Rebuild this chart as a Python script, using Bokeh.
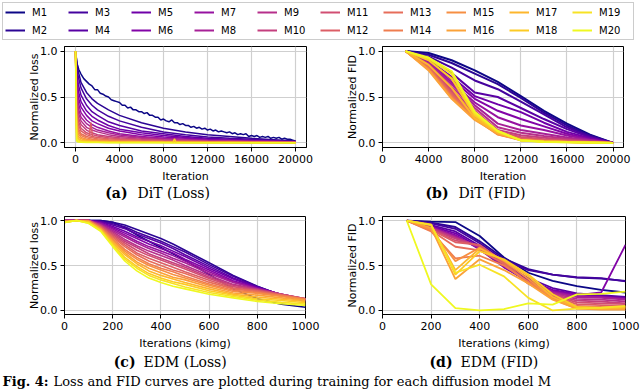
from bokeh.plotting import figure
from bokeh.layouts import column, row
from bokeh.models import Legend, LegendItem, Label, FixedTicker, Range1d
from bokeh.palettes import Plasma256
from bokeh.embed import file_html
from bokeh.resources import INLINE

NAMES = ["M1", "M2", "M3", "M4", "M5", "M6", "M7", "M8", "M9", "M10",
         "M11", "M12", "M13", "M14", "M15", "M16", "M17", "M18", "M19", "M20"]
COLORS = [Plasma256[round(i * 255 / 19)] for i in range(20)]

# ---------------- (a) DiT loss ----------------
DIT_LOSS_M1_X = [0, 150, 300, 500, 750, 1000, 1250, 1500, 1750, 2000, 2250, 2500, 2750, 3000,
                 3250, 3500, 3750, 4000, 4250, 4500, 4750, 5000, 5250, 5500, 5750, 6000,
                 6250, 6500, 6750, 7000, 7250, 7500, 7750, 8000, 8250, 8500, 8750, 9000,
                 9250, 9500, 9750, 10000, 10250, 10500, 10750, 11000, 11250, 11500, 11750,
                 12000, 12250, 12500, 12750, 13000, 13250, 13500, 13750, 14000, 14250, 14500,
                 14750, 15000, 15250, 15500, 15750, 16000, 16250, 16500, 16750, 17000, 17250,
                 17500, 17750, 18000, 18250, 18500, 18750, 19000, 19250, 19500, 19750, 20000]
DIT_LOSS_M1_Y = [1.0, 0.86, 0.80, 0.75, 0.70, 0.67, 0.64, 0.62, 0.58, 0.58, 0.54, 0.53, 0.51, 0.50,
                 0.47, 0.46, 0.45, 0.44, 0.41, 0.41, 0.38, 0.39, 0.36, 0.36, 0.34, 0.34,
                 0.32, 0.33, 0.30, 0.30, 0.28, 0.28, 0.25, 0.26, 0.24, 0.23, 0.25, 0.22,
                 0.22, 0.20, 0.21, 0.19, 0.19, 0.17, 0.18, 0.16, 0.17, 0.15, 0.16,
                 0.14, 0.15, 0.13, 0.14, 0.12, 0.13, 0.12, 0.11, 0.12, 0.10, 0.11,
                 0.09, 0.10, 0.09, 0.10, 0.07, 0.08, 0.07, 0.08, 0.06, 0.07, 0.06,
                 0.07, 0.05, 0.06, 0.05, 0.06, 0.04, 0.05, 0.04, 0.04, 0.03, 0.02]
DIT_LOSS_X = [0, 100, 250, 500, 1000, 1500, 2000, 3000, 4000, 6000, 8000, 10000, 12000,
              14000, 16000, 18000, 20000]
DIT_LOSS_Y = [
    [1.0, 0.90, 0.78, 0.66, 0.55, 0.48, 0.43, 0.36, 0.30, 0.22, 0.16, 0.12, 0.09, 0.07, 0.05, 0.035, 0.02],
    [1.0, 0.85, 0.72, 0.60, 0.48, 0.41, 0.36, 0.29, 0.24, 0.17, 0.12, 0.09, 0.065, 0.05, 0.04, 0.03, 0.015],
    [1.0, 0.80, 0.64, 0.52, 0.41, 0.34, 0.30, 0.23, 0.19, 0.13, 0.10, 0.07, 0.05, 0.04, 0.03, 0.02, 0.01],
    [1.0, 0.75, 0.57, 0.45, 0.35, 0.29, 0.25, 0.19, 0.15, 0.11, 0.08, 0.06, 0.04, 0.03, 0.025, 0.02, 0.01],
    [1.0, 0.70, 0.50, 0.39, 0.30, 0.24, 0.21, 0.16, 0.13, 0.09, 0.065, 0.05, 0.035, 0.03, 0.02, 0.015, 0.01],
    [1.0, 0.64, 0.44, 0.33, 0.25, 0.20, 0.17, 0.13, 0.10, 0.07, 0.05, 0.04, 0.03, 0.025, 0.02, 0.015, 0.01],
    [1.0, 0.58, 0.38, 0.28, 0.21, 0.17, 0.14, 0.11, 0.085, 0.06, 0.045, 0.035, 0.025, 0.02, 0.015, 0.012, 0.01],
    [1.0, 0.52, 0.33, 0.24, 0.17, 0.14, 0.12, 0.09, 0.07, 0.05, 0.035, 0.03, 0.02, 0.017, 0.013, 0.01, 0.008],
    [1.0, 0.46, 0.28, 0.20, 0.14, 0.11, 0.09, 0.07, 0.055, 0.04, 0.03, 0.025, 0.018, 0.015, 0.012, 0.01, 0.007],
    [1.0, 0.40, 0.24, 0.16, 0.11, 0.09, 0.075, 0.055, 0.045, 0.033, 0.025, 0.02, 0.015, 0.012, 0.01, 0.008, 0.006],
    [1.0, 0.34, 0.20, 0.13, 0.09, 0.07, 0.06, 0.045, 0.036, 0.027, 0.02, 0.016, 0.012, 0.01, 0.008, 0.007, 0.005],
    [1.0, 0.29, 0.16, 0.10, 0.07, 0.055, 0.045, 0.035, 0.028, 0.02, 0.016, 0.013, 0.01, 0.008, 0.007, 0.006, 0.005],
    [1.0, 0.24, 0.13, 0.08, 0.055, 0.04, 0.035, 0.027, 0.022, 0.016, 0.013, 0.01, 0.008, 0.007, 0.006, 0.005, 0.004],
    [1.0, 0.19, 0.10, 0.06, 0.04, 0.03, 0.026, 0.02, 0.017, 0.013, 0.01, 0.008, 0.007, 0.006, 0.005, 0.004, 0.003],
    [1.0, 0.15, 0.07, 0.045, 0.03, 0.022, 0.019, 0.015, 0.013, 0.01, 0.008, 0.007, 0.006, 0.005, 0.004, 0.003, 0.003],
    [1.0, 0.11, 0.05, 0.03, 0.02, 0.016, 0.014, 0.011, 0.01, 0.008, 0.006, 0.005, 0.004, 0.004, 0.003, 0.003, 0.002],
    [1.0, 0.07, 0.035, 0.02, 0.014, 0.011, 0.01, 0.008, 0.007, 0.006, 0.005, 0.004, 0.003, 0.003, 0.002, 0.002, 0.002],
    [1.0, 0.04, 0.02, 0.012, 0.009, 0.007, 0.006, 0.005, 0.005, 0.004, 0.004, 0.003, 0.002, 0.002, 0.002, 0.001, 0.001],
    [1.0, 0.02, 0.01, 0.007, 0.005, 0.004, 0.004, 0.003, 0.003, 0.003, 0.002, 0.002, 0.002, 0.001, 0.001, 0.001, 0.001],
]
SPIKE_A_SERIES, SPIKE_A_X, SPIKE_A_Y = 11, [1250, 1400, 1550], [0.08, 0.22, 0.07]
SPIKE_B_SERIES, SPIKE_B_X, SPIKE_B_Y = 17, [8850, 9000, 9150], [0.005, 0.045, 0.005]

# ---------------- (b) DiT FID ----------------
DIT_FID_X = [2000, 4000, 6000, 8000, 10000, 12000, 14000, 16000, 18000, 20000]
DIT_FID_Y = [
    [1.0, 0.98, 0.90, 0.79, 0.665, 0.51, 0.35, 0.21, 0.09, 0.0],
    [1.0, 0.96, 0.87, 0.755, 0.64, 0.49, 0.33, 0.19, 0.08, 0.0],
    [1.0, 0.94, 0.82, 0.68, 0.585, 0.45, 0.31, 0.17, 0.07, 0.0],
    [1.0, 0.92, 0.76, 0.55, 0.50, 0.38, 0.26, 0.15, 0.06, 0.0],
    [1.0, 0.90, 0.72, 0.51, 0.42, 0.335, 0.22, 0.12, 0.05, 0.0],
    [1.0, 0.89, 0.69, 0.48, 0.35, 0.26, 0.18, 0.10, 0.04, 0.0],
    [1.0, 0.88, 0.66, 0.44, 0.28, 0.19, 0.14, 0.08, 0.035, 0.0],
    [1.0, 0.87, 0.64, 0.41, 0.21, 0.14, 0.10, 0.06, 0.03, 0.0],
    [1.0, 0.86, 0.61, 0.38, 0.17, 0.11, 0.075, 0.045, 0.02, 0.0],
    [1.0, 0.85, 0.58, 0.35, 0.14, 0.083, 0.055, 0.035, 0.015, 0.0],
    [1.0, 0.84, 0.56, 0.32, 0.12, 0.065, 0.04, 0.025, 0.01, 0.0],
    [1.0, 0.83, 0.54, 0.30, 0.11, 0.05, 0.03, 0.02, 0.01, 0.0],
    [1.0, 0.82, 0.52, 0.28, 0.10, 0.04, 0.025, 0.015, 0.008, 0.0],
    [1.0, 0.81, 0.50, 0.27, 0.095, 0.035, 0.02, 0.012, 0.006, 0.0],
    [1.0, 0.80, 0.49, 0.26, 0.09, 0.03, 0.018, 0.01, 0.005, 0.0],
    [1.0, 0.79, 0.48, 0.25, 0.10, 0.03, 0.015, 0.01, 0.005, 0.0],
    [1.0, 0.85, 0.60, 0.27, 0.11, 0.03, 0.015, 0.01, 0.005, 0.0],
    [1.0, 0.90, 0.70, 0.30, 0.12, 0.03, 0.015, 0.01, 0.005, 0.0],
    [1.0, 0.92, 0.75, 0.32, 0.13, 0.03, 0.012, 0.008, 0.004, 0.0],
    [1.0, 0.93, 0.78, 0.34, 0.13, 0.025, 0.01, 0.006, 0.003, 0.0],
]

# ---------------- (c) EDM loss ----------------
EDM_LOSS_X = [0, 50, 100, 150, 200, 250, 300, 350, 400, 450, 500, 600, 700, 800, 900, 1000]
EDM_LOSS_Y = [
    [1.0, 1.0, 1.0, 1.0, 0.98, 0.92, 0.84, 0.77, 0.70, 0.63, 0.56, 0.40, 0.24, 0.13, 0.07, 0.035],
    [1.0, 1.0, 1.0, 1.0, 0.98, 0.95, 0.90, 0.85, 0.80, 0.74, 0.67, 0.53, 0.39, 0.27, 0.17, 0.10],
    [1.0, 1.0, 1.0, 0.99, 0.965, 0.93, 0.87, 0.82, 0.77, 0.71, 0.65, 0.51, 0.38, 0.265, 0.17, 0.105],
    [1.0, 1.0, 1.0, 0.99, 0.95, 0.91, 0.85, 0.80, 0.75, 0.69, 0.62, 0.49, 0.36, 0.26, 0.175, 0.11],
    [1.0, 1.0, 1.0, 0.98, 0.935, 0.88, 0.82, 0.77, 0.72, 0.66, 0.60, 0.47, 0.35, 0.255, 0.175, 0.115],
    [1.0, 1.0, 1.0, 0.97, 0.92, 0.86, 0.80, 0.74, 0.69, 0.64, 0.57, 0.45, 0.33, 0.25, 0.18, 0.12],
    [1.0, 1.0, 1.0, 0.97, 0.905, 0.84, 0.77, 0.71, 0.66, 0.61, 0.55, 0.43, 0.32, 0.245, 0.18, 0.12],
    [1.0, 1.0, 1.0, 0.96, 0.89, 0.82, 0.75, 0.69, 0.64, 0.58, 0.53, 0.41, 0.31, 0.24, 0.18, 0.125],
    [1.0, 1.0, 1.0, 0.95, 0.875, 0.79, 0.72, 0.66, 0.61, 0.56, 0.50, 0.39, 0.29, 0.235, 0.18, 0.13],
    [1.0, 1.0, 1.0, 0.95, 0.86, 0.77, 0.70, 0.63, 0.58, 0.53, 0.48, 0.37, 0.28, 0.23, 0.18, 0.13],
    [1.0, 1.0, 1.0, 0.94, 0.845, 0.75, 0.67, 0.61, 0.56, 0.51, 0.46, 0.355, 0.265, 0.225, 0.18, 0.13],
    [0.99, 1.0, 1.0, 0.93, 0.83, 0.73, 0.64, 0.58, 0.53, 0.48, 0.43, 0.335, 0.25, 0.22, 0.175, 0.13],
    [0.99, 1.0, 1.0, 0.93, 0.815, 0.71, 0.62, 0.55, 0.50, 0.45, 0.41, 0.315, 0.24, 0.21, 0.17, 0.13],
    [0.99, 1.0, 0.99, 0.92, 0.80, 0.68, 0.59, 0.52, 0.47, 0.43, 0.38, 0.295, 0.225, 0.20, 0.165, 0.125],
    [0.99, 1.0, 0.99, 0.91, 0.785, 0.66, 0.57, 0.50, 0.45, 0.40, 0.36, 0.28, 0.21, 0.19, 0.155, 0.12],
    [0.99, 1.0, 0.99, 0.91, 0.77, 0.64, 0.54, 0.47, 0.42, 0.37, 0.34, 0.26, 0.195, 0.17, 0.14, 0.11],
    [0.98, 1.0, 0.99, 0.90, 0.755, 0.62, 0.52, 0.44, 0.39, 0.35, 0.31, 0.24, 0.18, 0.15, 0.125, 0.10],
    [0.98, 1.0, 0.98, 0.89, 0.74, 0.59, 0.49, 0.41, 0.36, 0.32, 0.29, 0.22, 0.17, 0.13, 0.11, 0.085],
    [0.98, 1.0, 0.97, 0.89, 0.725, 0.57, 0.47, 0.39, 0.34, 0.30, 0.26, 0.20, 0.155, 0.115, 0.09, 0.07],
    [0.98, 1.0, 0.97, 0.88, 0.71, 0.55, 0.44, 0.36, 0.31, 0.27, 0.24, 0.18, 0.14, 0.10, 0.075, 0.055],
]

# ---------------- (d) EDM FID ----------------
EDM_FID_X = [100, 200, 300, 400, 500, 600, 700, 800, 900, 1000]
EDM_FID_Y = [
    [1.0, 0.99, 0.985, 0.83, 0.59, 0.42, 0.33, 0.27, 0.23, 0.20],
    [1.0, 0.98, 0.93, 0.77, 0.58, 0.46, 0.40, 0.365, 0.355, 0.33],
    [1.0, 0.97, 0.91, 0.75, 0.56, 0.45, 0.40, 0.37, 0.36, 0.325],
    [1.0, 0.95, 0.88, 0.72, 0.52, 0.36, 0.25, 0.19, 0.17, 0.15],
    [1.0, 0.94, 0.86, 0.70, 0.50, 0.34, 0.23, 0.18, 0.16, 0.14],
    [1.0, 0.93, 0.84, 0.68, 0.48, 0.32, 0.22, 0.17, 0.20, 0.73],
    [1.0, 0.93, 0.83, 0.69, 0.49, 0.33, 0.21, 0.16, 0.15, 0.13],
    [1.0, 0.92, 0.82, 0.70, 0.50, 0.32, 0.20, 0.15, 0.14, 0.12],
    [1.0, 0.92, 0.81, 0.71, 0.51, 0.31, 0.19, 0.13, 0.12, 0.10],
    [1.0, 0.91, 0.80, 0.72, 0.52, 0.31, 0.18, 0.11, 0.10, 0.08],
    [1.0, 0.90, 0.78, 0.72, 0.53, 0.30, 0.17, 0.09, 0.08, 0.07],
    [1.0, 0.90, 0.76, 0.73, 0.54, 0.30, 0.16, 0.07, 0.06, 0.05],
    [1.0, 0.89, 0.71, 0.67, 0.52, 0.30, 0.15, 0.05, 0.04, 0.04],
    [1.0, 0.88, 0.58, 0.61, 0.50, 0.32, 0.14, 0.03, 0.03, 0.03],
    [1.0, 0.90, 0.55, 0.70, 0.55, 0.35, 0.13, 0.02, 0.02, 0.02],
    [1.0, 0.92, 0.35, 0.57, 0.45, 0.30, 0.12, 0.02, 0.01, 0.01],
    [1.0, 0.95, 0.45, 0.69, 0.56, 0.38, 0.15, 0.03, 0.02, 0.03],
    [1.0, 0.96, 0.40, 0.66, 0.57, 0.40, 0.18, 0.04, 0.03, 0.04],
    [1.0, 0.95, 0.42, 0.51, 0.38, 0.14, 0.0, 0.02, 0.03, 0.05],
    [1.0, 0.29, 0.025, 0.0, 0.015, 0.08, 0.065, 0.18, 0.185, 0.21],
]

DIT_TICKS = [0, 4000, 8000, 12000, 16000, 20000]
EDM_TICKS = [0, 200, 400, 600, 800, 1000]
Y_TICKS = [0, 0.5, 1]
Y_TICK_LABELS = {0: "0.0", 0.5: "0.5", 1: "1.0"}

SANS = "DejaVu Sans"
SERIF = "DejaVu Serif"


def panel(width, height, xr, yr, xticks, xlabel, ylabel, borders):
    left, right, top, bottom = borders
    p = figure(width=width, height=height, x_range=Range1d(*xr), y_range=Range1d(*yr),
               output_backend="svg", toolbar_location=None,
               min_border_left=left, min_border_right=right,
               min_border_top=top, min_border_bottom=bottom)
    p.xaxis.ticker = FixedTicker(ticks=xticks)
    p.yaxis.ticker = FixedTicker(ticks=Y_TICKS)
    p.yaxis.major_label_overrides = Y_TICK_LABELS
    p.xaxis.axis_label = xlabel
    p.yaxis.axis_label = ylabel
    for ax in (p.xaxis[0], p.yaxis[0]):
        ax.major_label_text_font = SANS
        ax.major_label_text_font_size = "11px"
        ax.major_label_text_color = "#000000"
        ax.axis_label_text_font = SANS
        ax.axis_label_text_font_size = "11px"
        ax.axis_label_text_font_style = "normal"
        ax.axis_label_text_color = "#000000"
        ax.axis_line_color = "#000000"
        ax.major_tick_line_color = "#000000"
        ax.major_tick_out = 4
        ax.major_tick_in = 0
        ax.minor_tick_line_color = None
    p.xaxis.major_label_standoff = 3
    p.xaxis.axis_label_standoff = 4
    p.yaxis.major_label_standoff = 3
    p.yaxis.axis_label_standoff = -4
    p.outline_line_color = "#000000"
    p.outline_line_alpha = 1.0
    p.grid.grid_line_color = "#cfcfcf"
    p.grid.grid_line_width = 1.2
    p.background_fill_color = "white"
    p.border_fill_color = "white"
    return p


def strip(height):
    s = figure(width=640, height=height, x_range=Range1d(0, 1), y_range=Range1d(0, 1),
               output_backend="svg", toolbar_location=None, min_border=0,
               x_axis_type=None, y_axis_type=None, outline_line_color=None)
    s.grid.visible = False
    return s


def caption(s, bold, rest, xb, xr_, y, size="14px"):
    s.add_layout(Label(x=xb, y=y, x_units="screen", y_units="screen", text=bold,
                       text_font=SERIF, text_font_style="bold", text_font_size=size,
                       text_align="right", text_baseline="middle", text_color="#000000"))
    s.add_layout(Label(x=xr_, y=y, x_units="screen", y_units="screen", text=rest,
                       text_font=SERIF, text_font_style="normal", text_font_size=size,
                       text_align="left", text_baseline="middle", text_color="#000000"))


# Panel (a)
pa = panel(320, 145, (-1000, 21000), (-0.05, 1.05), DIT_TICKS, "Iteration", "Normalized loss",
           (64, 14, 6, 35))
pa.line(DIT_LOSS_M1_X, DIT_LOSS_M1_Y, line_color=COLORS[0], line_width=1.5)
for i, ys in enumerate(DIT_LOSS_Y):
    pa.line(DIT_LOSS_X, ys, line_color=COLORS[i + 1], line_width=1.5)
pa.line(SPIKE_A_X, SPIKE_A_Y, line_color=COLORS[SPIKE_A_SERIES], line_width=1.5)
pa.line(SPIKE_B_X, SPIKE_B_Y, line_color=COLORS[SPIKE_B_SERIES], line_width=1.5)

# Panel (b)
pb = panel(320, 145, (0, 20900), (-0.05, 1.05), DIT_TICKS, "Iteration", "Normalized FID",
           (62, 17, 6, 35))
for i, ys in enumerate(DIT_FID_Y):
    pb.line(DIT_FID_X, ys, line_color=COLORS[i], line_width=2)

# Panel (c)
pc = panel(320, 152, (0, 1000), (-0.045, 1.045), EDM_TICKS, "Iterations (kimg)", "Normalized loss",
           (64, 15, 12, 36))
for i, ys in enumerate(EDM_LOSS_Y):
    pc.line(EDM_LOSS_X, ys, line_color=COLORS[i], line_width=1.6)

# Panel (d)
pd = panel(320, 152, (0, 1000), (-0.045, 1.047), EDM_TICKS, "Iterations (kimg)", "Normalized FID",
           (62, 15, 16, 35))
for i, ys in enumerate(EDM_FID_Y):
    pd.line(EDM_FID_X, ys, line_color=COLORS[i], line_width=1.8)

# Sub-captions
cap1 = strip(15)
caption(cap1, "(a)", "DiT (Loss)", 127, 137, 7.5)
caption(cap1, "(b)", "DiT (FID)", 448, 458, 7.5)
cap2 = strip(18)
caption(cap2, "(c)", "EDM (Loss)", 135, 143, 9)
caption(cap2, "(d)", "EDM (FID)", 452, 460, 9)

# Legend strip
lf = strip(40)
rends = [lf.line(x=[float("nan")], y=[float("nan")], line_color=c, line_width=2) for c in COLORS]
legend = Legend(items=[LegendItem(label=n, renderers=[r]) for n, r in zip(NAMES, rends)],
                orientation="vertical", nrows=2, location="top_left",
                glyph_width=20, glyph_height=14, label_standoff=7, label_width=32,
                spacing=4, padding=2, margin=2,
                border_line_color="#cccccc", border_line_width=1, border_line_alpha=1.0,
                label_text_font=SANS, label_text_font_size="10px",
                label_text_color="#000000", background_fill_color="white")
lf.add_layout(legend, "center")

# Figure caption
cf = strip(21)
cf.add_layout(Label(x=2, y=10.5, x_units="screen", y_units="screen", text="Fig. 4:",
                    text_font=SERIF, text_font_style="bold", text_font_size="13px",
                    text_baseline="middle", text_color="#000000"))
cf.add_layout(Label(x=53, y=10.5, x_units="screen", y_units="screen",
                    text="Loss and FID curves are plotted during training for each diffusion model M",
                    text_font=SERIF, text_font_size="13px",
                    text_baseline="middle", text_color="#000000"))

layout = column(lf, row(pa, pb), cap1, row(pc, pd), cap2, cf, spacing=0)
open("out.html", "w").write(file_html(layout, INLINE))
